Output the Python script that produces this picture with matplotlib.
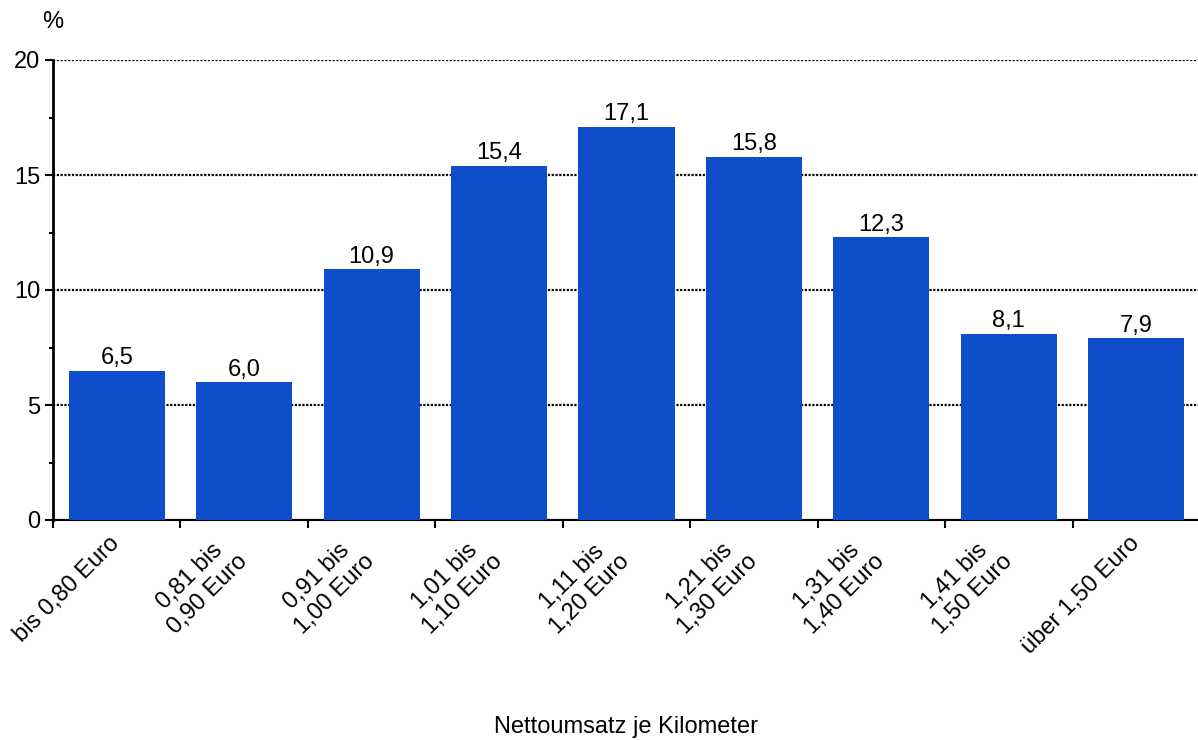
import numpy as np
import matplotlib.pyplot as plt

categories = ['bis 0,80 Euro', '0,81 bis\n0,90 Euro', '0,91 bis\n1,00 Euro',
              '1,01 bis\n1,10 Euro', '1,11 bis\n1,20 Euro', '1,21 bis\n1,30 Euro',
              '1,31 bis\n1,40 Euro', '1,41 bis\n1,50 Euro', 'über 1,50 Euro']
values = [6.5, 6.0, 10.9, 15.4, 17.1, 15.8, 12.3, 8.1, 7.9]
value_labels = ['6,5', '6,0', '10,9', '15,4', '17,1', '15,8', '12,3', '8,1', '7,9']

plt.rcParams['font.family'] = ['Liberation Sans', 'DejaVu Sans']
fs = 17

fig = plt.figure(figsize=(11.98, 7.40), dpi=100)
ax = fig.add_axes([53/1198, 1 - 520/740, 1147/1198, 460/740])

x = np.arange(len(values))
ax.bar(x, values, width=0.755, color='#0E4ECB', zorder=3)

for xi, v, lab in zip(x, values, value_labels):
    ax.annotate(lab, (xi, v), xytext=(0, 1.0), textcoords='offset points',
                ha='center', va='bottom', fontsize=fs, zorder=4,
                bbox=dict(boxstyle='square,pad=0.06', fc='white', ec='none'))

ax.set_xlim(-0.5, len(values) - 0.5)
ax.set_ylim(0, 20)
ax.set_yticks([0, 5, 10, 15, 20])
ax.set_yticks([2.5, 7.5, 12.5, 17.5], minor=True)
ax.yaxis.grid(True, which='major', color='black', linestyle=(0, (1, 0.7)), linewidth=1.6, zorder=0)
ax.tick_params(axis='y', which='major', direction='out', length=6, width=1.5, labelsize=fs, pad=3)
ax.tick_params(axis='y', which='minor', direction='out', length=3, width=1.5)

ax.set_xticks(np.arange(-0.5, len(values), 1.0))
ax.set_xticklabels([])
ax.tick_params(axis='x', direction='out', length=6, width=1.5)

for xi, cat in zip(x, categories):
    ax.text(xi + 0.06, -0.55, cat, rotation=45, ha='right', va='top',
            multialignment='center', fontsize=fs, linespacing=1.2)

for s in ['top', 'right']:
    ax.spines[s].set_visible(False)
ax.spines['left'].set_linewidth(2)
ax.spines['bottom'].set_linewidth(1.5)

fig.text(53/1198, 1 - 22/740, '%', ha='center', va='center', fontsize=fs)
fig.text(626/1198, 1 - 727/740, 'Nettoumsatz je Kilometer', ha='center', va='center', fontsize=fs)

fig.savefig('out.png', dpi=100)
